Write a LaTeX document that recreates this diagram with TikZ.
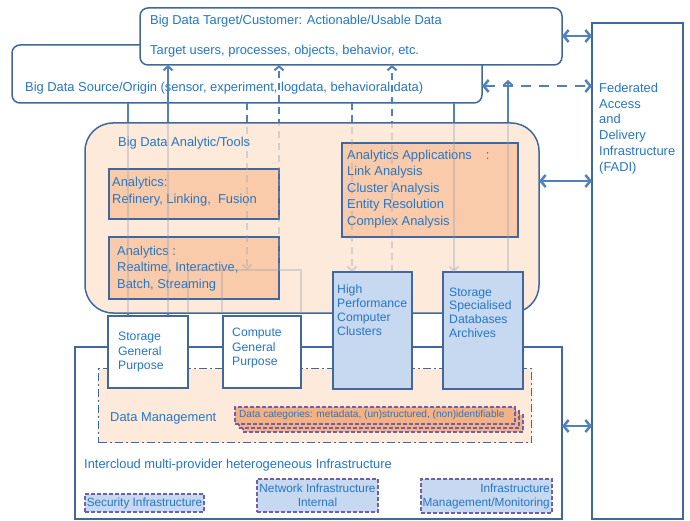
\documentclass[tikz,border=0pt]{standalone}
\usepackage{fontspec}
\setmainfont{Liberation Sans}
\usetikzlibrary{arrows.meta}
\definecolor{bord}{RGB}{65,104,156}
\definecolor{arr}{RGB}{79,129,189}
\definecolor{txt}{RGB}{38,118,198}
\definecolor{peach}{RGB}{253,234,218}
\definecolor{orng}{RGB}{249,203,170}
\definecolor{lblue}{RGB}{198,217,241}
\definecolor{dcat}{RGB}{244,177,131}
\definecolor{purp}{RGB}{112,96,168}
\definecolor{fade}{RGB}{150,158,175}
\newcommand\myfs[2]{\fontsize{#1}{#2}\selectfont}
\pgfdeclarelayer{lzero}
\pgfdeclarelayer{lone}
\pgfsetlayers{lzero,lone,main}
\newcommand\myconns[1]{%
  \draw[conn,#1] (source.south -| 128,0) -- (storgen.north -| 128,0);
  \draw[conn,tip,#1] (storgen.north -| 168,0) -- (target.south -| 168,0);
  \draw[conn,dsh,tip,#1] (source.south -| 247,0) -- (hidtop -| 247,0);
  \draw[conn,dsh,tip,#1] (hidtop -| 279,0) -- (target.south -| 279,0);
  \draw[conn,dsh,tip,#1] (source.south -| 352,0) -- (hpc.north -| 352,0);
  \draw[conn,dsh,tip,#1] (hpc.north -| 392,0) -- (target.south -| 392,0);
  \draw[conn,tip,#1] (source.south -| 454,0) -- (stspec.north -| 454,0);
  \draw[conn,tip,#1] (stspec.north -| 508,0) -- (upend);
}
\begin{document}
\begin{tikzpicture}[x=1pt,y=-1pt,
  box/.style={draw=bord, line width=1.5pt, anchor=north west, inner sep=0pt, outer sep=0pt},
  lbl/.style={text=txt, inner sep=0pt, anchor=west, align=left},
  conn/.style={draw=arr, line width=2pt},
  tip/.style={-{Straight Barb[length=4pt,width=9pt]}},
  dsh/.style={dash pattern=on 7pt off 5pt},
  faded/.style={draw=fade, opacity=0.35},
  dbl/.style={draw=arr, line width=2.5pt, {Straight Barb[length=5pt,width=12pt]}-{Straight Barb[length=5pt,width=12pt]}},
  pbox/.style={draw=purp, line width=1.3pt, dash pattern=on 4pt off 2pt, anchor=north west, inner sep=0pt, outer sep=0pt},
]
\useasboundingbox (0,0) rectangle (690,521);

\begin{pgfonlayer}{lzero}
\node[box, fill=white, rounded corners=8pt, minimum width=470pt, minimum height=58pt] (source) at (12,45) {};
\node[lbl, font=\myfs{12.9}{15}] (srctxt) at (25,88) {Big Data Source/Origin (sensor, experiment, logdata, behavioral data)};
\node[box, fill=white, rounded corners=8pt, minimum width=422pt, minimum height=57pt] (target) at (140,8) {};
\node[lbl, font=\myfs{12.9}{15}] (tgt1) at (150,21) {Big Data Target/Customer: Actionable/Usable Data};
\node[lbl, font=\myfs{12.9}{15}] (tgt2) at (150,51) {Target users, processes, objects, behavior, etc.};
\node[box, fill=white, minimum width=91pt, minimum height=496pt] (fadi) at (592,23) {};
\node[lbl, font=\myfs{12.9}{15.8}] (fadtxt) at (599,128.5) {Federated\\Access\\and\\Delivery\\Infrastructure\\(FADI)};
\end{pgfonlayer}

% analytics
\node[box, fill=peach, rounded corners=28pt, minimum width=454pt, minimum height=190pt] (anl) at (85,123) {};
\node[lbl, font=\myfs{12.9}{15}] (anltxt) at (118,143) {Big Data Analytic/Tools};
\node[box, fill=orng, minimum width=170pt, minimum height=50pt] (refbox) at (109,169) {};
\node[lbl, font=\myfs{12.9}{17}] (reftxt) at (112,191.5) {Analytics:\\Refinery, Linking,\ \ Fusion};
\node[box, fill=orng, minimum width=170pt, minimum height=62pt] (rtbox) at (109,237) {};
\node[lbl, font=\myfs{12.9}{16.5}] (rttxt) at (117,268.5) {Analytics :\\Realtime, Interactive,\\Batch, Streaming};
\node[box, fill=orng, minimum width=176pt, minimum height=94pt] (appbox) at (342,143) {};
\node[lbl, font=\myfs{12.9}{16.5}] (apptxt) at (347,189) {Analytics Applications\hspace{14pt}:\\Link Analysis\\Cluster Analysis\\Entity Resolution\\Complex Analysis};

\coordinate (hidtop) at (188,270);
\coordinate (upend) at (508,80);

% infrastructure
\node[box, fill=white, minimum width=487pt, minimum height=172pt] (infra) at (75,347) {};
\node[draw=bord, line width=1.3pt, dash pattern=on 8pt off 3pt on 2pt off 3pt, fill=peach, anchor=north west, inner sep=0pt, minimum width=433pt, minimum height=74pt] (dm) at (98,368) {};
\node[lbl, font=\myfs{12.9}{15}] (dmtxt) at (110,418) {Data Management};
\node[pbox, fill=dcat, minimum width=280pt, minimum height=17pt] (dcat3) at (243,415) {};
\node[pbox, fill=dcat, minimum width=280pt, minimum height=17pt] (dcat2) at (239,411) {};
\node[pbox, fill=dcat, minimum width=280pt, minimum height=17pt] (dcat1) at (235,407) {};
\node[lbl, font=\myfs{10.1}{11}] (dcattxt) at (239,415) {Data categories: metadata, (un)structured, (non)identifiable};
\node[lbl, font=\myfs{12.9}{15}] (inftxt) at (84,465) {Intercloud multi-provider heterogeneous Infrastructure};

\node[box, fill=white, minimum width=80pt, minimum height=72pt] (storgen) at (108,316) {};
\node[lbl, font=\myfs{12.2}{14.5}] (sgtxt) at (118,352.5) {Storage\\General\\Purpose};
\node[box, fill=white, minimum width=78pt, minimum height=72pt] (compgen) at (223,316) {};
\node[lbl, font=\myfs{12.2}{14.5}] (cgtxt) at (232,348.5) {Compute\\General\\Purpose};
\node[box, fill=lblue, minimum width=79pt, minimum height=117pt] (hpc) at (333,272) {};
\node[lbl, font=\myfs{12.2}{14}] (hpctxt) at (337,310) {High\\Performance\\Computer\\Clusters};
\node[box, fill=lblue, minimum width=80pt, minimum height=117pt] (stspec) at (443,272) {};
\node[lbl, font=\myfs{12.2}{13.8}] (sstxt) at (449,312.5) {Storage\\Specialised\\Databases\\Archives};

\node[pbox, fill=lblue, minimum width=119pt, minimum height=18pt] (secbox) at (85,494) {};
\node[text=txt, inner sep=0pt, font=\myfs{11.8}{14}] (sectxt) at (secbox.center) {Security Infrastructure};
\node[pbox, fill=lblue, minimum width=121pt, minimum height=33pt] (netbox) at (257,479) {};
\node[text=txt, inner sep=0pt, align=center, font=\myfs{11.8}{14.5}] (nettxt) at (netbox.center) {Network Infrastructure\\Internal};
\node[pbox, fill=lblue, minimum width=131pt, minimum height=34pt] (mgbox) at (421,479) {};
\node[text=txt, inner sep=0pt, align=right, anchor=east, font=\myfs{11.8}{14.5}] (mgtxt) at (550,496.5) {Infrastructure\\Management/Monitoring};

% connectors
\begin{pgfonlayer}{lone}
\myconns{}
\end{pgfonlayer}
\begin{scope}
\clip[rounded corners=28pt] (85,123) rectangle (539,313);
\myconns{faded}
\draw[faded, line width=2pt] (188,316) -- (hidtop) -- (hidtop -| 301,0) -- (301,316);
\draw[faded, line width=2pt] (hidtop -| 222,0) -- (222,316);
\end{scope}

% links to FADI
\draw[dbl] (target.east |- 0,36) -- (fadi.west |- 0,36);
\draw[dbl, dash pattern=on 10pt off 8pt] (source.east |- 0,86) -- (fadi.west |- 0,86);
\draw[dbl] (anl.east |- 0,181) -- (fadi.west |- 0,181);
\draw[dbl] (infra.east |- 0,426) -- (fadi.west |- 0,426);
\end{tikzpicture}
\end{document}
